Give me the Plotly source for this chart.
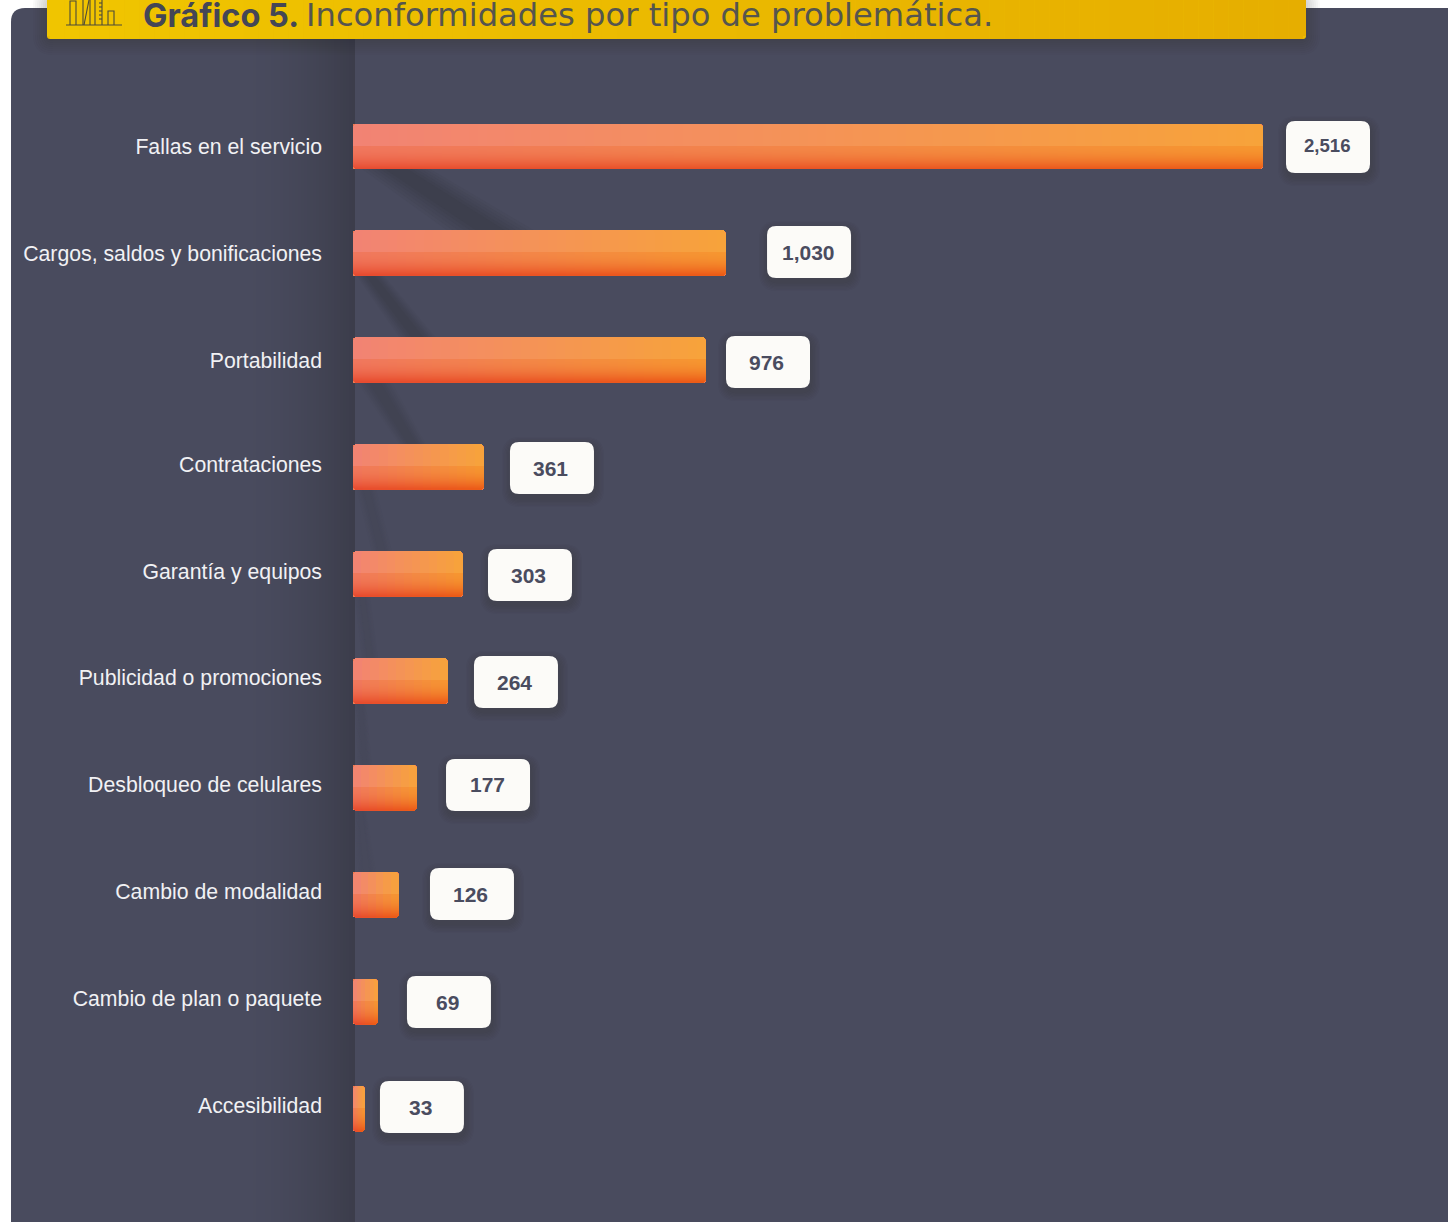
# Horizontal bar chart: complaints by type of problem, on a dark panel with a yellow header.
import math
import plotly.graph_objects as go

categories = [
    "Fallas en el servicio", "Cargos, saldos y bonificaciones", "Portabilidad",
    "Contrataciones", "Garantía y equipos", "Publicidad o promociones",
    "Desbloqueo de celulares", "Cambio de modalidad", "Cambio de plan o paquete",
    "Accesibilidad",
]
values = [2516, 1030, 976, 361, 303, 264, 177, 126, 69, 33]
title_bold = "Gráfico 5."
title_rest = "Inconformidades por tipo de problemática."

W, H = 1448, 1222
AXIS_LEFT = 353
PX_PER_UNIT = 910 / 2516
ROW_STEP = 106.9
ROW_ZERO = 146.5
BAR_H = 45

# Label chip placement relative to the end of each bar and the centre of each row, in pixels.
chip_gap = [23, 41.5, 20, 26.4, 25.4, 25.5, 29, 31.4, 29, 15]
chip_dy = [0.5, -1.4, 1.7, 0.8, 0.9, 1, -2.9, -0.8, 0.3, -1.6]
chip_text_dx = [-1, -1, -2, -1, -1, -1, -1, -1, -1, -1]
chip_text_dy = [-1.5, 0, 0, 0, 0, 0, -1, 0, 0, 0]
# Vertical nudge of the category labels from their row centres, in pixels.
label_dy = [0, 0, 0, -3, -3, -3, -3, -3, -3, -3]
CHIP_W, CHIP_H, CHIP_R = 84, 52, 9

PANEL = "#494b5e"
TEXT_DARK = "#4a4c5f"


def px(x):
    return (x - AXIS_LEFT) / (W - AXIS_LEFT)


def py(y):
    return 1 - y / H


def mix(a, b, t):
    return tuple(a[i] + (b[i] - a[i]) * t for i in range(3))


def rgb(c, alpha=None):
    r, g, b = (int(round(v)) for v in c)
    return f"rgb({r},{g},{b})" if alpha is None else f"rgba({r},{g},{b},{alpha})"


def page_rect(x0, y0, x1, y1, color, layer="below"):
    return dict(type="rect", xref="paper", yref="paper", x0=px(x0), x1=px(x1), y0=py(y0), y1=py(y1),
                fillcolor=color, line_width=0, layer=layer)


def rounded_path(x0, y0, x1, y1, r, fx=lambda v: v, fy=lambda v: v):
    pts = [
        ("M", x0 + r, y0), ("L", x1 - r, y0), ("Q", x1, y0, x1, y0 + r), ("L", x1, y1 - r),
        ("Q", x1, y1, x1 - r, y1), ("L", x0 + r, y1), ("Q", x0, y1, x0, y1 - r), ("L", x0, y0 + r),
        ("Q", x0, y0, x0 + r, y0),
    ]
    out = []
    for p in pts:
        coords = p[1:]
        out.append(p[0] + " ".join(f"{fx(coords[i])},{fy(coords[i + 1])}" for i in range(0, len(coords), 2)))
    return " ".join(out) + " Z"


def page_rounded(x0, y0, x1, y1, r, color, layer="below"):
    return dict(type="path", xref="paper", yref="paper", path=rounded_path(x0, y0, x1, y1, r, px, py),
                fillcolor=color, line_width=0, layer=layer)


def page_poly(points, color, layer="below"):
    d = "M" + " L".join(f"{px(x)},{py(y)}" for x, y in points) + " Z"
    return dict(type="path", xref="paper", yref="paper", path=d, fillcolor=color, line_width=0, layer=layer)


def page_line(points, color="#4b4a3a", width=1.1):
    d = "M" + " L".join(f"{px(x)},{py(y)}" for x, y in points)
    return dict(type="path", xref="paper", yref="paper", path=d, line=dict(color=color, width=width), layer="above")


shapes = []

# Panel with a rounded top-left corner, running off the right and bottom of the page.
shapes.append(page_rounded(11, 8, W + 40, H + 40, 14, PANEL))

# Shaded band to the left of the axis, darkening towards it.
panel_rgb = (73, 75, 94)
edge_rgb = (59, 60, 74)
for x in range(235, 355, 3):
    t = ((x - 235) / 120) ** 1.8
    shapes.append(page_rect(x, 8, min(x + 3, 355), H, rgb(mix(panel_rgb, edge_rgb, t))))

# Long soft shadows falling diagonally from the bars, nested from the faint rim to the dark core.
shadow_core = (61, 63, 77)
falloff = [
    ((362, 169), (430, 169), (535, 231), (448, 231), 1.0),
    ((357, 276), (384, 276), (436, 338), (400, 338), 0.95),
    ((358, 383), (392, 383), (426, 445), (400, 445), 0.7),
    ((357, 490), (376, 490), (392, 552), (372, 552), 0.36),
    ((355, 597), (370, 597), (378, 659), (362, 659), 0.28),
    ((355, 704), (366, 704), (372, 766), (358, 766), 0.24),
    ((355, 811), (366, 811), (376, 873), (357, 873), 0.2),
]
for tl, tr, br, bl, strength in falloff:
    for step in range(6):
        s = step / 6
        inset_top = (tr[0] - tl[0]) * 0.4 * s
        inset_bot = (br[0] - bl[0]) * 0.4 * s
        shapes.append(page_poly(
            [(tl[0] + inset_top, tl[1]), (tr[0] - inset_top, tr[1]),
             (br[0] - inset_bot, br[1]), (bl[0] + inset_bot, bl[1])],
            rgb(mix(panel_rgb, shadow_core, strength * (step + 1) / 6))))

# Header shadow and yellow gradient strip.
for i in range(8):
    grow = 14 - i * 2
    shapes.append(page_rounded(47 - grow, 0 - grow, 1306 + grow, 39 + grow + 2, 6 + grow, "rgba(20,20,30,0.028)", layer="above"))
shapes.append(page_rounded(47, -6, 1306, 39, 3, "#ecbd00", layer="above"))
yellow_l, yellow_r = (240, 197, 0), (230, 174, 0)
strip_n = 84
for i in range(strip_n):
    x0 = 50 + (1303 - 50) * i / strip_n
    x1 = 50 + (1303 - 50) * (i + 1) / strip_n
    shapes.append(page_rect(x0, 0, x1, 39, rgb(mix(yellow_l, yellow_r, i / (strip_n - 1))), layer="above"))
shapes.append(page_rect(47, 0, 50, 36, rgb(yellow_l), layer="above"))
shapes.append(page_rect(1303, 0, 1306, 36, rgb(yellow_r), layer="above"))

# Small skyline-and-ruler pictogram in the header.
shapes.append(page_line([(66, 25), (122, 25)]))
shapes.append(page_line([(70, 25), (70, 1), (76, 1), (76, 25)]))
shapes.append(page_line([(83, 25), (83, 0)]))
shapes.append(page_line([(84, 25), (89, 0)]))
shapes.append(page_line([(90, 0), (90, 25)]))
shapes.append(page_line([(95, 25), (95, 0)]))
shapes.append(page_line([(102, 25), (102, 0)]))
for tick_y in (3, 7, 11, 15, 19):
    shapes.append(page_line([(99, tick_y), (102, tick_y)]))
shapes.append(page_line([(108, 25), (108, 11), (114, 11), (114, 25)]))

# Value chips: anchored to each bar through the data axes, sized in pixels.
annotations = []
for i, v in enumerate(values):
    left = chip_gap[i]
    cy = -chip_dy[i]
    for s in range(7):
        grow = 9 - s * 1.3
        path = rounded_path(left - grow + 1, cy - CHIP_H / 2 - grow - 4, left + CHIP_W + grow + 1,
                            cy + CHIP_H / 2 + grow - 4, CHIP_R + grow)
        shapes.append(dict(type="path", xref="x", yref="y", xsizemode="pixel", ysizemode="pixel",
                           xanchor=v, yanchor=i, path=path, fillcolor="rgba(22,22,32,0.026)",
                           line_width=0, layer="above"))
    path = rounded_path(left, cy - CHIP_H / 2, left + CHIP_W, cy + CHIP_H / 2, CHIP_R)
    shapes.append(dict(type="path", xref="x", yref="y", xsizemode="pixel", ysizemode="pixel",
                       xanchor=v, yanchor=i, path=path, fillcolor="#fcfbf8", line_width=0, layer="above"))
    annotations.append(dict(
        x=v, y=i, xref="x", yref="y", text=f"{v:,}", showarrow=False,
        xshift=left + CHIP_W / 2 + chip_text_dx[i], yshift=cy - chip_text_dy[i],
        font=dict(family="Liberation Sans", size=18.6 if i == 0 else 21, color=TEXT_DARK, weight="bold"),
    ))

# Header title, two weights.
annotations.append(dict(
    x=px(140.5), y=py(14.5), xref="paper", yref="paper", xanchor="left", yanchor="middle", showarrow=False,
    text=title_bold, font=dict(family="Inter", size=32.6, color="#444656", weight=700)))
annotations.append(dict(
    x=px(304), y=py(15), xref="paper", yref="paper", xanchor="left", yanchor="middle", showarrow=False,
    text=title_rest, font=dict(family="DejaVu Sans", size=32.2, color="#55554e", weight=400)))

# Bars. A rounded bar carries each value; strips of small cells above it paint the two-axis gradient.
fig = go.Figure()
idx = list(range(len(values)))
unit_h = 1 / ROW_STEP
fig.add_trace(go.Bar(
    x=values, y=idx, orientation="h", width=BAR_H * unit_h, hoverinfo="skip", showlegend=False,
    marker=dict(color="#f07a50", cornerradius=3, line_width=0),
))

top_l, top_r = (242, 131, 116), (247, 163, 58)
mid_l, mid_r = (240, 119, 94), (246, 150, 47)
low_l, low_r = (231, 74, 47), (236, 90, 22)
SEAM = 22


def cell_color(u, y_mid):
    if y_mid < SEAM:
        return mix(top_l, top_r, u)
    t = ((y_mid - SEAM) / (BAR_H - SEAM)) ** 1.9
    return mix(mix(mid_l, mid_r, u), mix(low_l, low_r, u), t)


bands = [(0, 1, 2), (1, 2, 1), (2, SEAM, 0)]
bands += [(y, y + 1, 0) for y in range(SEAM, BAR_H - 2)]
bands += [(BAR_H - 2, BAR_H - 1, 1), (BAR_H - 1, BAR_H, 2)]

for y0, y1, inset_px in bands:
    xs, ys, bases, colors = [], [], [], []
    for i, v in enumerate(values):
        cols = max(6, math.ceil(v * PX_PER_UNIT / 9))
        inset = inset_px / PX_PER_UNIT
        span = v - 2 * inset
        for c in range(cols):
            xs.append(span / cols)
            ys.append(i)
            bases.append(inset + span * c / cols)
            colors.append(rgb(cell_color((c + 0.5) / cols, (y0 + y1) / 2)))
    fig.add_trace(go.Bar(
        x=xs, y=ys, base=bases, orientation="h", hoverinfo="skip", showlegend=False,
        offset=(y0 - BAR_H / 2) * unit_h, width=(y1 - y0) * unit_h,
        marker=dict(color=colors, line_width=0),
    ))

fig.update_layout(
    width=W, height=H, autosize=False,
    margin=dict(l=AXIS_LEFT, r=0, t=0, b=0, pad=0),
    paper_bgcolor="#ffffff", plot_bgcolor="rgba(0,0,0,0)",
    barmode="overlay", bargap=0, showlegend=False,
    shapes=shapes, annotations=annotations,
    xaxis=dict(range=[0, (W - AXIS_LEFT) / PX_PER_UNIT], visible=False, fixedrange=True),
    yaxis=dict(
        range=[(H - ROW_ZERO) / ROW_STEP, -ROW_ZERO / ROW_STEP],
        tickmode="array", tickvals=[i + label_dy[i] / ROW_STEP for i in idx], ticktext=categories,
        ticks="", ticklabelstandoff=30, showgrid=False, zeroline=False, showline=False,
        tickfont=dict(family="Liberation Sans", size=21.25, color="#f1f1f4"), fixedrange=True,
    ),
)

fig.write_html("out.html", config=dict(displayModeBar=False))
